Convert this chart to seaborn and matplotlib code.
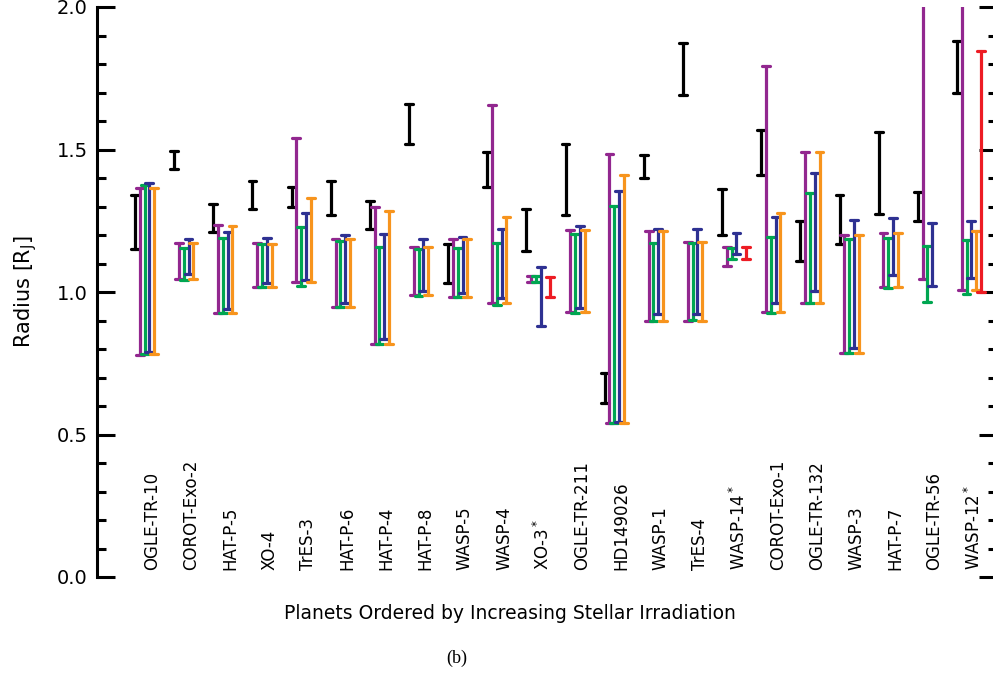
import numpy as np
import pandas as pd
import matplotlib
matplotlib.use("Agg")
import matplotlib.pyplot as plt
from matplotlib.ticker import MultipleLocator
import seaborn as sns

# planets, ordered by increasing stellar irradiation
planets = ["OGLE-TR-10", "COROT-Exo-2", "HAT-P-5", "XO-4", "TrES-3", "HAT-P-6",
           "HAT-P-4", "HAT-P-8", "WASP-5", "WASP-4", "XO-3$^*$", "OGLE-TR-211",
           "HD149026", "WASP-1", "TrES-4", "WASP-14$^*$", "COROT-Exo-1",
           "OGLE-TR-132", "WASP-3", "HAT-P-7", "OGLE-TR-56", "WASP-12$^*$"]

# radius ranges [R_J], lower / upper ends of each bar (None = no bar)
obs_lo = [1.15, 1.43, 1.21, 1.29, 1.30, 1.27, 1.22, 1.52, 1.03, 1.37, 1.145,
          1.27, 0.61, 1.40, 1.69, 1.20, 1.41, 1.11, 1.17, 1.275, 1.25, 1.70]
obs_hi = [1.34, 1.495, 1.31, 1.39, 1.37, 1.39, 1.32, 1.66, 1.17, 1.49, 1.29,
          1.52, 0.715, 1.48, 1.875, 1.36, 1.57, 1.25, 1.34, 1.56, 1.35, 1.88]

purple_lo = [0.78, 1.045, 0.927, 1.016, 1.036, 0.948, 0.818, 0.988, 0.984, 0.96, 1.035,
             0.929, 0.539, 0.899, 0.899, 1.092, 0.931, 0.962, 0.787, 1.016, 1.045, 1.007]
purple_hi = [1.365, 1.173, 1.235, 1.171, 1.539, 1.187, 1.30, 1.159, 1.185, 1.656, 1.055,
             1.218, 1.483, 1.214, 1.174, 1.157, 1.793, 1.49, 1.20, 1.206, 2.3, 2.3]

green_lo = [0.781, 1.042, 0.925, 1.016, 1.021, 0.946, 0.818, 0.987, 0.981, 0.954, 1.035,
            0.925, 0.539, 0.899, 0.902, 1.117, 0.925, 0.962, 0.785, 1.013, 0.966, 0.992]
green_hi = [1.375, 1.155, 1.191, 1.167, 1.229, 1.179, 1.159, 1.152, 1.153, 1.173, 1.055,
            1.204, 1.302, 1.173, 1.171, 1.155, 1.194, 1.349, 1.185, 1.191, 1.161, 1.182]

blue_lo = [0.79, 1.062, 0.939, 1.033, 1.042, 0.96, 0.834, 1.005, 0.998, 0.978, 0.882,
           0.943, 0.545, 0.923, 0.923, 1.133, 0.962, 1.004, 0.805, 1.058, 1.021, 1.048]
blue_hi = [1.381, 1.185, 1.209, 1.188, 1.276, 1.199, 1.202, 1.185, 1.194, 1.22, 1.089,
           1.232, 1.356, 1.222, 1.22, 1.208, 1.264, 1.416, 1.253, 1.261, 1.243, 1.25]

orange_lo = [0.782, 1.045, 0.927, 1.016, 1.036, 0.948, 0.818, 0.988, 0.984, 0.96, None,
             0.929, 0.539, 0.899, 0.899, None, 0.931, 0.962, 0.787, 1.016, None, 1.007]
orange_hi = [1.366, 1.173, 1.233, 1.168, 1.329, 1.187, 1.284, 1.159, 1.185, 1.264, None,
             1.218, 1.411, 1.214, 1.174, None, 1.276, 1.49, 1.20, 1.206, None, 1.214]

red_lo = [None] * 10 + [0.981] + [None] * 4 + [1.116] + [None] * 5 + [1.001]
red_hi = [None] * 10 + [1.054] + [None] * 4 + [1.159] + [None] * 5 + [1.847]

series = ["obs", "purple", "green", "blue", "orange", "red"]
colors = ["#000000", "#92278F", "#00A651", "#2E3192", "#F7941D", "#ED1C24"]
ranges = [(obs_lo, obs_hi), (purple_lo, purple_hi), (green_lo, green_hi),
          (blue_lo, blue_hi), (orange_lo, orange_hi), (red_lo, red_hi)]

rows = []
for name, (lo, hi) in zip(series, ranges):
    for p, a, b in zip(planets, lo, hi):
        if a is None:
            continue
        rows.append({"planet": p, "model": name, "radius": a})
        rows.append({"planet": p, "model": name, "radius": b})
df = pd.DataFrame(rows)

sns.set_style("ticks")
plt.rcParams["font.family"] = ["DejaVu Sans"]
for key in ["text.color", "axes.labelcolor", "xtick.color", "ytick.color", "axes.edgecolor"]:
    plt.rcParams[key] = "black"

fig = plt.figure(figsize=(9.93, 6.84), dpi=100)
ax = fig.add_axes([97 / 993, 1 - 577 / 684, 900 / 993, 570 / 684])

sns.pointplot(data=df, x="planet", y="radius", hue="model", order=planets,
              hue_order=series, palette=colors,
              errorbar=lambda v: (v.min(), v.max()),
              markers="", linestyles="none", dodge=0.613, capsize=0.2,
              err_kws={"linewidth": 2.3}, legend=False, ax=ax)

# planet names inside the plot
for i, p in enumerate(planets):
    ax.text(i + 0.12, 0.025, p, rotation=90, ha="center", va="bottom", fontsize=12)

ax.set_xlim(-1.2775, 21.717)
ax.set_ylim(0, 2.0)
ax.set_xticks([])
ax.set_xlabel("")
ax.set_yticks([0.0, 0.5, 1.0, 1.5, 2.0])
ax.set_yticklabels(["0.0", "0.5", "1.0", "1.5", "2.0"])
ax.yaxis.set_minor_locator(MultipleLocator(0.1))
ax.tick_params(axis="y", which="both", direction="in", left=True, right=True,
               width=2.2, labelsize=14, pad=6.5)
ax.tick_params(axis="y", which="major", length=13)
ax.tick_params(axis="y", which="minor", length=6.5)
for side in ["top", "bottom"]:
    ax.spines[side].set_visible(False)
ax.spines["left"].set_linewidth(2.2)
ax.spines["right"].set_linewidth(2.2)

ax.set_ylabel("Radius [R$_\\mathregular{J}$]", fontsize=15)
ax.yaxis.set_label_coords(-0.064, 0.5)

fig.text(510 / 993, 1 - 619 / 684, "Planets Ordered by Increasing Stellar Irradiation",
         ha="center", va="baseline", fontsize=13.5)
fig.text(457 / 993, 1 - 658 / 684, "(b)", ha="center", va="center",
         fontsize=13, family="Liberation Serif")

fig.savefig("out.png", dpi=100)
